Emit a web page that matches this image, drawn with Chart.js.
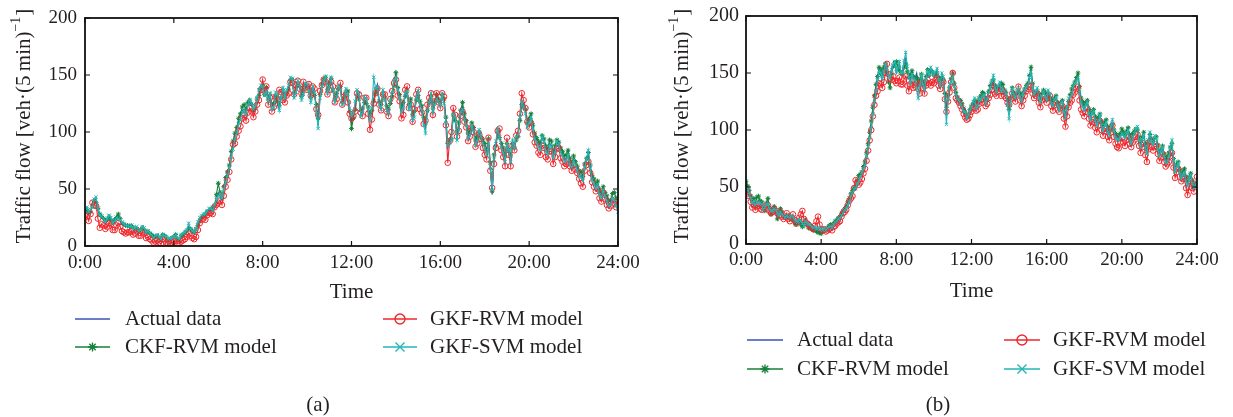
<!DOCTYPE html>
<html>
<head>
<meta charset="utf-8">
<script src="https://cdn.jsdelivr.net/npm/chart.js@4.4.1/dist/chart.umd.min.js"></script>
<style>
  html, body { margin: 0; padding: 0; background: #fff; }
  #wrap { position: relative; width: 1233px; height: 417px; overflow: hidden; }
  canvas { position: absolute; top: 0; }
  #chartA { left: 0; }
  #chartB { left: 630px; }
</style>
</head>
<body>
<div id="wrap">
  <canvas id="chartA" width="650" height="417"></canvas>
  <canvas id="chartB" width="603" height="417"></canvas>
</div>
<script>
// traffic flow per 5 min, one sample every 5 min from 0:00 to 24:00
const STEP_MIN = 5;
const tickLabels = ['0:00', '4:00', '8:00', '12:00', '16:00', '20:00', '24:00'];
const seriesNames = ['Actual data', 'CKF-RVM model', 'GKF-RVM model', 'GKF-SVM model'];

// ---- day (a) ----
const actualA = [
  30, 33, 28, 31, 37, 42, 40, 31, 26, 25, 23, 20, 22, 25, 24, 19, 21, 24, 26, 22, 19, 18, 17, 17,
  16, 17, 14, 15, 16, 12, 13, 16, 15, 11, 12, 10, 9, 6, 7, 8, 6, 4, 9, 8, 6, 4, 5, 6,
  7, 9, 5, 4, 8, 9, 10, 12, 17, 14, 12, 11, 14, 19, 23, 26, 27, 26, 29, 32, 31, 30, 33, 38,
  46, 44, 40, 49, 58, 63, 70, 80, 88, 96, 101, 109, 114, 119, 120, 116, 122, 127, 126, 118, 123, 131, 134, 140,
  143, 134, 137, 126, 131, 122, 127, 133, 124, 120, 132, 138, 129, 135, 139, 147, 145, 131, 137, 144, 142, 130, 135, 142,
  140, 135, 128, 139, 134, 121, 106, 131, 139, 144, 147, 135, 141, 146, 138, 127, 133, 140, 139, 126, 128, 137, 134, 120,
  108, 117, 124, 135, 131, 116, 119, 128, 127, 121, 112, 118, 129, 137, 142, 126, 122, 135, 130, 121, 118, 127, 133, 144,
  150, 136, 131, 119, 124, 133, 138, 122, 127, 112, 116, 129, 134, 126, 121, 110, 104, 117, 128, 133, 119, 125, 131, 128,
  124, 132, 127, 110, 86, 91, 97, 118, 112, 95, 104, 117, 122, 113, 108, 96, 99, 107, 103, 90, 94, 101, 97, 92,
  88, 81, 92, 70, 45, 78, 90, 101, 96, 88, 84, 76, 92, 83, 76, 92, 88, 95, 98, 112, 128, 124, 118, 105,
  110, 114, 104, 96, 93, 89, 86, 95, 91, 85, 82, 90, 88, 79, 84, 91, 89, 83, 80, 76, 77, 81, 73, 70,
  76, 72, 68, 63, 62, 58, 70, 75, 80, 69, 60, 57, 52, 55, 47, 44, 50, 45, 41, 37, 38, 43, 40, 36,
  33
];
const ckfRvmA = [
  30, 32, 29, 30, 35, 39, 38, 33, 28, 26, 24, 22, 23, 26, 22, 21, 23, 25, 28, 24, 20, 19, 18, 18,
  17, 18, 15, 16, 15, 13, 14, 16, 14, 12, 13, 11, 10, 8, 8, 9, 7, 6, 10, 9, 7, 5, 6, 7,
  8, 10, 6, 5, 9, 10, 12, 13, 15, 15, 13, 12, 15, 18, 22, 25, 26, 28, 30, 31, 32, 34, 35, 45,
  55, 47, 42, 52, 60, 65, 71, 83, 92, 99, 104, 112, 116, 122, 124, 120, 126, 128, 124, 119, 121, 129, 132, 138,
  141, 133, 139, 129, 133, 124, 125, 131, 127, 123, 130, 136, 131, 134, 137, 145, 146, 134, 139, 143, 140, 131, 137, 140,
  141, 137, 130, 136, 132, 124, 112, 133, 142, 146, 148, 137, 143, 147, 136, 129, 134, 138, 140, 127, 130, 135, 136, 118,
  103, 112, 120, 132, 129, 119, 121, 126, 125, 122, 115, 119, 127, 134, 138, 127, 124, 133, 129, 123, 120, 125, 131, 141,
  152, 139, 133, 122, 126, 131, 136, 124, 129, 115, 118, 128, 132, 127, 123, 113, 108, 119, 126, 131, 121, 127, 133, 129,
  126, 133, 129, 113, 90, 93, 94, 115, 110, 100, 108, 119, 126, 116, 110, 99, 101, 108, 104, 93, 96, 100, 95, 93,
  90, 84, 94, 73, 48, 80, 88, 100, 95, 90, 86, 79, 90, 85, 79, 90, 86, 93, 96, 110, 124, 122, 120, 108,
  112, 116, 106, 99, 95, 92, 90, 97, 94, 88, 85, 93, 92, 83, 88, 93, 91, 86, 83, 79, 80, 84, 77, 73,
  79, 74, 70, 66, 65, 61, 72, 77, 82, 71, 62, 59, 55, 57, 49, 46, 52, 47, 44, 40, 40, 46, 47, 42,
  38
];
const gkfRvmA = [
  27, 26, 22, 28, 38, 36, 35, 24, 16, 19, 18, 15, 17, 20, 19, 14, 14, 18, 20, 17, 13, 12, 11, 12,
  12, 13, 10, 11, 14, 9, 9, 12, 11, 7, 8, 6, 5, 3, 4, 5, 3, 2, 6, 5, 3, 2, 2, 3,
  4, 6, 2, 2, 4, 5, 6, 8, 11, 9, 7, 6, 8, 14, 20, 23, 24, 23, 27, 29, 29, 28, 34, 36,
  38, 40, 36, 44, 52, 58, 65, 76, 89, 90, 96, 101, 105, 112, 115, 110, 117, 121, 118, 113, 118, 124, 128, 137,
  146, 136, 140, 124, 130, 118, 122, 131, 128, 137, 135, 128, 126, 132, 134, 144, 143, 133, 141, 145, 138, 134, 144, 139,
  137, 142, 132, 140, 138, 120, 115, 136, 141, 146, 144, 133, 137, 144, 140, 126, 129, 139, 143, 124, 131, 133, 126, 116,
  112, 114, 118, 134, 133, 117, 114, 130, 130, 116, 102, 111, 125, 134, 138, 124, 119, 133, 133, 118, 114, 129, 136, 143,
  146, 132, 127, 112, 115, 137, 140, 121, 124, 109, 120, 133, 137, 120, 117, 107, 110, 124, 130, 134, 115, 127, 134, 126,
  121, 134, 131, 106, 73, 92, 100, 121, 115, 96, 101, 114, 118, 109, 104, 92, 96, 104, 100, 87, 90, 98, 94, 86,
  80, 76, 95, 66, 51, 72, 86, 101, 103, 84, 78, 70, 95, 80, 70, 88, 84, 97, 101, 116, 134, 128, 121, 109,
  104, 108, 98, 91, 88, 82, 80, 88, 86, 78, 76, 83, 83, 72, 78, 85, 86, 77, 74, 70, 72, 75, 70, 66,
  71, 67, 64, 59, 55, 52, 66, 71, 74, 64, 56, 52, 48, 50, 42, 39, 47, 41, 36, 33, 35, 40, 37, 34,
  40
];
const gkfSvmA = [
  31, 34, 30, 32, 34, 41, 43, 33, 27, 26, 24, 21, 24, 27, 25, 20, 22, 25, 24, 23, 21, 19, 18, 18,
  17, 18, 15, 16, 17, 13, 14, 17, 16, 12, 13, 11, 10, 7, 9, 10, 8, 6, 10, 9, 8, 6, 7, 7,
  8, 10, 7, 6, 10, 11, 12, 14, 20, 15, 13, 12, 15, 21, 25, 27, 28, 28, 31, 33, 33, 31, 36, 40,
  44, 46, 42, 50, 56, 62, 68, 78, 85, 94, 99, 107, 111, 117, 119, 115, 124, 128, 125, 120, 122, 130, 137, 141,
  140, 132, 136, 127, 134, 120, 121, 135, 134, 119, 130, 139, 130, 137, 141, 148, 147, 130, 135, 145, 140, 128, 133, 143,
  142, 136, 126, 140, 135, 118, 103, 130, 140, 145, 149, 134, 139, 148, 137, 126, 131, 141, 137, 124, 125, 138, 133, 121,
  114, 116, 127, 137, 133, 114, 117, 131, 129, 120, 110, 121, 148, 138, 140, 124, 120, 137, 128, 119, 116, 128, 135, 145,
  148, 137, 130, 117, 121, 134, 136, 120, 125, 110, 113, 130, 136, 124, 119, 106, 99, 118, 126, 134, 117, 124, 129, 127,
  123, 133, 125, 108, 88, 90, 93, 116, 113, 93, 102, 118, 120, 111, 106, 94, 97, 106, 101, 88, 92, 102, 96, 90,
  86, 80, 90, 68, 49, 76, 92, 103, 95, 86, 82, 74, 90, 84, 74, 93, 86, 96, 97, 113, 127, 122, 116, 104,
  108, 113, 103, 94, 91, 87, 84, 96, 92, 83, 80, 89, 87, 77, 82, 92, 90, 82, 79, 74, 75, 80, 71, 69,
  75, 71, 66, 61, 60, 57, 69, 76, 84, 68, 58, 55, 50, 54, 45, 42, 49, 44, 39, 35, 36, 42, 41, 35,
  30
];

// ---- day (b) ----
const actualB = [
  46, 48, 44, 39, 35, 37, 33, 36, 38, 35, 34, 29, 31, 34, 36, 31, 28, 27, 30, 31, 26, 24, 29, 27,
  24, 22, 26, 23, 22, 25, 24, 20, 19, 18, 21, 20, 17, 15, 20, 18, 16, 17, 15, 13, 14, 12, 13, 14,
  12, 11, 14, 12, 13, 14, 15, 13, 16, 18, 19, 21, 22, 24, 26, 29, 31, 33, 36, 41, 44, 47, 48, 52,
  56, 58, 62, 66, 70, 78, 86, 95, 104, 116, 126, 135, 142, 150, 148, 144, 150, 156, 152, 147, 148, 154, 155, 158,
  150, 154, 158, 149, 152, 160, 163, 155, 148, 143, 150, 147, 145, 150, 142, 139, 147, 141, 136, 144, 150, 147, 153, 150,
  147, 150, 152, 143, 140, 149, 146, 131, 112, 127, 138, 144, 148, 139, 130, 126, 127, 124, 121, 117, 118, 111, 114, 116,
  119, 124, 127, 120, 122, 128, 125, 129, 130, 124, 128, 133, 136, 139, 142, 136, 134, 138, 140, 135, 137, 133, 131, 126,
  120, 128, 135, 131, 129, 133, 136, 130, 126, 131, 134, 137, 138, 145, 153, 138, 130, 133, 136, 129, 125, 131, 133, 130,
  127, 134, 131, 124, 122, 126, 128, 121, 118, 123, 124, 116, 110, 119, 127, 129, 132, 137, 140, 144, 147, 134, 125, 121,
  118, 121, 124, 114, 110, 114, 116, 109, 105, 108, 112, 104, 100, 104, 106, 99, 96, 103, 108, 99, 94, 91, 90, 95,
  98, 95, 92, 96, 99, 93, 89, 94, 96, 100, 102, 91, 86, 91, 95, 85, 80, 90, 97, 91, 88, 94, 92, 84,
  78, 81, 84, 77, 73, 71, 76, 82, 86, 72, 64, 68, 70, 63, 58, 61, 62, 56, 52, 57, 60, 54, 50, 53,
  55
];
const ckfRvmB = [
  55, 51, 47, 42, 38, 40, 36, 41, 42, 38, 37, 32, 29, 36, 40, 32, 26, 30, 33, 28, 22, 27, 31, 28,
  25, 24, 23, 25, 24, 22, 21, 19, 17, 19, 20, 17, 15, 18, 21, 17, 14, 14, 13, 12, 12, 11, 10, 10,
  9, 11, 12, 13, 14, 16, 17, 17, 18, 20, 21, 23, 24, 27, 29, 31, 33, 37, 40, 44, 47, 49, 51, 56,
  60, 61, 63, 68, 72, 80, 88, 98, 108, 120, 130, 140, 147, 155, 153, 149, 155, 158, 150, 142, 137, 149, 156, 159,
  160, 156, 152, 150, 149, 155, 158, 151, 146, 149, 152, 147, 143, 146, 140, 144, 149, 143, 139, 147, 153, 148, 152, 151,
  149, 148, 150, 146, 143, 146, 144, 132, 120, 130, 137, 145, 150, 141, 133, 129, 125, 126, 123, 119, 115, 113, 112, 118,
  121, 123, 126, 125, 124, 128, 130, 133, 132, 128, 126, 134, 139, 142, 144, 139, 137, 136, 138, 141, 140, 135, 133, 126,
  118, 128, 137, 133, 131, 132, 134, 132, 129, 133, 136, 139, 141, 148, 155, 141, 133, 132, 134, 131, 128, 132, 135, 133,
  130, 131, 128, 127, 125, 128, 130, 124, 121, 124, 126, 119, 114, 120, 125, 131, 136, 139, 142, 146, 150, 138, 128, 125,
  122, 124, 126, 118, 114, 116, 118, 112, 108, 111, 114, 107, 104, 107, 109, 103, 99, 102, 105, 100, 97, 95, 93, 97,
  101, 98, 95, 99, 102, 96, 92, 97, 99, 101, 100, 93, 89, 94, 98, 88, 83, 91, 96, 92, 90, 93, 94, 87,
  80, 83, 86, 79, 75, 77, 80, 85, 88, 75, 67, 70, 72, 65, 61, 64, 66, 59, 55, 59, 62, 56, 53, 52,
  52
];
const gkfRvmB = [
  44, 46, 42, 37, 32, 34, 30, 33, 35, 31, 30, 32, 33, 31, 34, 29, 27, 28, 31, 29, 27, 25, 28, 24,
  22, 24, 27, 22, 20, 23, 26, 21, 18, 20, 23, 26, 29, 22, 19, 18, 17, 15, 14, 13, 16, 20, 24, 17,
  13, 12, 13, 11, 12, 13, 14, 12, 15, 16, 18, 19, 20, 24, 27, 28, 30, 34, 38, 40, 42, 49, 56, 54,
  52, 54, 57, 62, 66, 73, 82, 91, 100, 112, 122, 130, 134, 141, 140, 137, 142, 150, 158, 149, 145, 144, 147, 143,
  141, 143, 146, 140, 140, 145, 147, 139, 134, 140, 143, 137, 138, 141, 136, 132, 141, 137, 132, 139, 144, 141, 139, 142,
  141, 144, 146, 139, 136, 141, 142, 127, 116, 125, 133, 142, 150, 137, 128, 126, 124, 121, 118, 114, 111, 109, 110, 113,
  116, 119, 122, 117, 118, 123, 126, 124, 127, 121, 123, 128, 131, 135, 139, 132, 130, 134, 136, 130, 134, 130, 128, 124,
  122, 127, 132, 128, 125, 131, 138, 126, 121, 126, 130, 134, 136, 138, 139, 132, 128, 130, 132, 124, 120, 126, 129, 127,
  124, 128, 130, 121, 117, 122, 124, 118, 116, 119, 121, 110, 103, 112, 120, 124, 126, 131, 133, 136, 138, 126, 118, 115,
  112, 116, 119, 110, 104, 107, 109, 102, 98, 104, 108, 100, 95, 99, 101, 94, 91, 98, 104, 94, 88, 85, 84, 89,
  93, 89, 86, 91, 94, 88, 85, 89, 91, 94, 96, 86, 80, 85, 88, 78, 72, 83, 90, 85, 82, 85, 86, 79,
  73, 76, 79, 72, 68, 70, 72, 77, 80, 67, 58, 63, 66, 59, 55, 57, 58, 49, 43, 50, 55, 49, 46, 52,
  59
];
const gkfSvmB = [
  48, 49, 45, 40, 36, 38, 34, 36, 37, 36, 35, 30, 32, 35, 35, 31, 29, 29, 31, 30, 27, 25, 28, 26,
  25, 23, 25, 24, 23, 25, 24, 21, 20, 19, 22, 20, 18, 16, 20, 18, 17, 17, 15, 14, 15, 13, 14, 14,
  13, 12, 14, 12, 14, 15, 16, 14, 17, 19, 20, 22, 23, 25, 27, 30, 31, 34, 37, 42, 45, 48, 49, 53,
  55, 59, 63, 66, 69, 77, 85, 93, 102, 114, 124, 134, 144, 152, 150, 145, 151, 158, 154, 147, 146, 153, 157, 160,
  151, 155, 160, 150, 150, 161, 168, 156, 146, 141, 149, 145, 144, 136, 128, 139, 148, 140, 135, 145, 152, 148, 155, 151,
  148, 151, 154, 144, 139, 150, 147, 126, 105, 127, 140, 143, 147, 138, 131, 127, 126, 123, 120, 116, 116, 110, 113, 117,
  120, 125, 128, 119, 121, 128, 126, 130, 131, 123, 127, 133, 137, 143, 148, 137, 133, 139, 142, 134, 136, 134, 132, 122,
  110, 124, 136, 131, 128, 134, 137, 129, 125, 132, 135, 138, 139, 146, 151, 137, 131, 134, 137, 128, 124, 130, 134, 130,
  126, 135, 132, 123, 121, 127, 129, 121, 117, 124, 125, 116, 111, 120, 128, 129, 131, 138, 141, 143, 146, 133, 124, 120,
  117, 122, 125, 114, 109, 115, 117, 108, 104, 108, 113, 104, 99, 104, 107, 98, 95, 103, 109, 99, 93, 92, 91, 94,
  97, 96, 93, 97, 100, 92, 88, 94, 97, 101, 103, 91, 85, 92, 96, 84, 79, 91, 98, 90, 87, 95, 93, 83,
  77, 82, 85, 77, 72, 71, 77, 84, 91, 74, 63, 68, 71, 62, 57, 61, 63, 55, 51, 58, 61, 53, 49, 52,
  54
];

const INK = '#231f20';
const SERIF = '"Liberation Serif", "Times New Roman", serif';
const styles = [
  { color: '#3a53b6', marker: 'none',     radius: 0,   order: 4 },
  { color: '#17803b', marker: 'star',     radius: 2.4, order: 3 },
  { color: '#f0262b', marker: 'circle',   radius: 2.8, order: 2 },
  { color: '#22b6b6', marker: 'crossRot', radius: 2.4, order: 1 }
];

const toPoints = arr => arr.map((v, i) => ({ x: i * STEP_MIN, y: v }));

function makeDatasets(seriesList) {
  return seriesList.map((arr, k) => {
    const s = styles[k];
    const hollow = s.marker === 'circle';
    return {
      label: seriesNames[k],
      data: toPoints(arr),
      borderColor: s.color,
      backgroundColor: hollow ? 'rgba(255,255,255,0)' : s.color,
      borderWidth: 1.1,
      pointStyle: s.marker === 'none' ? false : s.marker,
      pointRadius: s.radius,
      pointBorderWidth: 1,
      pointBorderColor: s.color,
      pointBackgroundColor: hollow ? 'rgba(255,255,255,0)' : s.color,
      tension: 0,
      order: s.order
    };
  });
}

function drawMarker(ctx, kind, x, y, r) {
  ctx.beginPath();
  if (kind === 'circle') {
    ctx.arc(x, y, r, 0, Math.PI * 2);
  } else if (kind === 'star') {
    for (let a = 0; a < 4; a++) {
      const ang = a * Math.PI / 4;
      ctx.moveTo(x - r * Math.cos(ang), y - r * Math.sin(ang));
      ctx.lineTo(x + r * Math.cos(ang), y + r * Math.sin(ang));
    }
  } else if (kind === 'crossRot') {
    ctx.moveTo(x - r, y - r); ctx.lineTo(x + r, y + r);
    ctx.moveTo(x - r, y + r); ctx.lineTo(x + r, y - r);
  }
  ctx.stroke();
}

// frame with inward ticks, axis titles, legend and caption
const panelDecor = {
  id: 'panelDecor',
  afterDatasetsDraw(chart, args, o) {
    const { ctx, chartArea: a, scales: { x, y } } = chart;
    ctx.save();
    ctx.strokeStyle = '#111';
    ctx.lineWidth = 1.8;
    ctx.strokeRect(a.left, a.top, a.right - a.left, a.bottom - a.top);
    ctx.lineWidth = 1.2;
    ctx.beginPath();
    x.ticks.forEach(t => {
      const px = x.getPixelForValue(t.value);
      ctx.moveTo(px, a.bottom); ctx.lineTo(px, a.bottom - 5);
      ctx.moveTo(px, a.top); ctx.lineTo(px, a.top + 5);
    });
    y.ticks.forEach(t => {
      const py = y.getPixelForValue(t.value);
      ctx.moveTo(a.left, py); ctx.lineTo(a.left + 5, py);
      ctx.moveTo(a.right, py); ctx.lineTo(a.right - 5, py);
    });
    ctx.stroke();

    ctx.fillStyle = INK;
    ctx.font = '21px ' + SERIF;
    ctx.textAlign = 'center';
    ctx.textBaseline = 'middle';
    ctx.fillText('Time', (a.left + a.right) / 2, o.timeY);
    ctx.fillText(o.caption, o.captionX, o.captionY);

    // rotated y title with superscript exponent
    ctx.save();
    ctx.translate(o.yTitleX, o.yTitleY);
    ctx.rotate(-Math.PI / 2);
    const main = 'Traffic flow [veh\u00b7(5\u2009min)';
    const sup = '\u22121';
    const tail = ']';
    ctx.font = '21px ' + SERIF;
    const w1 = ctx.measureText(main).width;
    const w3 = ctx.measureText(tail).width;
    ctx.font = '14px ' + SERIF;
    const w2 = ctx.measureText(sup).width;
    let cx = -(w1 + w2 + w3 + 1) / 2;
    ctx.textAlign = 'left';
    ctx.font = '21px ' + SERIF;
    ctx.fillText(main, cx, 0);
    cx += w1;
    ctx.font = '14px ' + SERIF;
    ctx.fillText(sup, cx, -8);
    cx += w2 + 1;
    ctx.font = '21px ' + SERIF;
    ctx.fillText(tail, cx, 0);
    ctx.restore();

    // legend, two columns
    ctx.font = '21px ' + SERIF;
    ctx.textAlign = 'left';
    o.legend.forEach((e, k) => {
      const s = styles[k];
      ctx.strokeStyle = s.color;
      ctx.lineWidth = 1.4;
      ctx.beginPath();
      ctx.moveTo(e.x1, e.y); ctx.lineTo(e.x2, e.y);
      ctx.stroke();
      if (s.marker !== 'none') {
        const r = s.marker === 'circle' ? 5 : 4.5;
        drawMarker(ctx, s.marker, (e.x1 + e.x2) / 2, e.y, r);
      }
      ctx.fillStyle = INK;
      ctx.fillText(seriesNames[k], e.tx, e.y);
    });
    ctx.restore();
  }
};

function buildChart(id, seriesList, lay) {
  return new Chart(document.getElementById(id), {
    type: 'line',
    data: { datasets: makeDatasets(seriesList) },
    plugins: [panelDecor],
    options: {
      responsive: false,
      animation: false,
      devicePixelRatio: 1,
      layout: { autoPadding: false, padding: { top: lay.top, right: lay.right, left: 0, bottom: 0 } },
      scales: {
        x: {
          type: 'linear', min: 0, max: 1440,
          afterBuildTicks: sc => { sc.ticks = tickLabels.map((_, i) => ({ value: i * 240 })); },
          afterFit: sc => {
            sc.height = lay.xHeight;
            sc.paddingLeft = 0;
            sc.paddingRight = 0;
          },
          grid: { display: false, drawTicks: false },
          border: { display: false },
          ticks: {
            padding: lay.xPad, color: INK, maxRotation: 0,
            font: { family: SERIF, size: 19 },
            callback: v => tickLabels[Math.round(v / 240)]
          }
        },
        y: {
          min: 0, max: 200,
          afterFit: sc => {
            sc.width = lay.yWidth;
            sc.paddingTop = 0;
            sc.paddingBottom = 0;
          },
          grid: { display: false, drawTicks: false },
          border: { display: false },
          ticks: { stepSize: 50, padding: lay.yPad, color: INK, font: { family: SERIF, size: lay.yFont } }
        }
      },
      plugins: {
        legend: { display: false },
        tooltip: { enabled: false },
        panelDecor: lay.decor
      }
    }
  });
}

// left canvas is a little wider than its slot so the last tick label fits;
// the right canvas sits over that transparent strip
buildChart('chartA', [actualA, ckfRvmA, gkfRvmA, gkfSvmA], {
  top: 18, right: 32, xHeight: 171, yWidth: 85, xPad: 6, yPad: 8, yFont: 19,
  decor: {
    timeY: 292, caption: '(a)', captionX: 318, captionY: 405,
    yTitleX: 24, yTitleY: 126,
    legend: [
      { x1: 75, x2: 110, tx: 125, y: 319 },
      { x1: 75, x2: 110, tx: 125, y: 347 },
      { x1: 383, x2: 417, tx: 430, y: 319 },
      { x1: 383, x2: 417, tx: 430, y: 347 }
    ]
  }
});

buildChart('chartB', [actualB, ckfRvmB, gkfRvmB, gkfSvmB], {
  top: 16, right: 36, xHeight: 173, yWidth: 116, xPad: 5, yPad: 7, yFont: 20,
  decor: {
    timeY: 291, caption: '(b)', captionX: 308, captionY: 405,
    yTitleX: 52, yTitleY: 126,
    legend: [
      { x1: 117, x2: 153, tx: 167, y: 340 },
      { x1: 117, x2: 153, tx: 167, y: 369 },
      { x1: 374, x2: 410, tx: 423, y: 340 },
      { x1: 374, x2: 410, tx: 423, y: 369 }
    ]
  }
});
</script>
</body>
</html>
